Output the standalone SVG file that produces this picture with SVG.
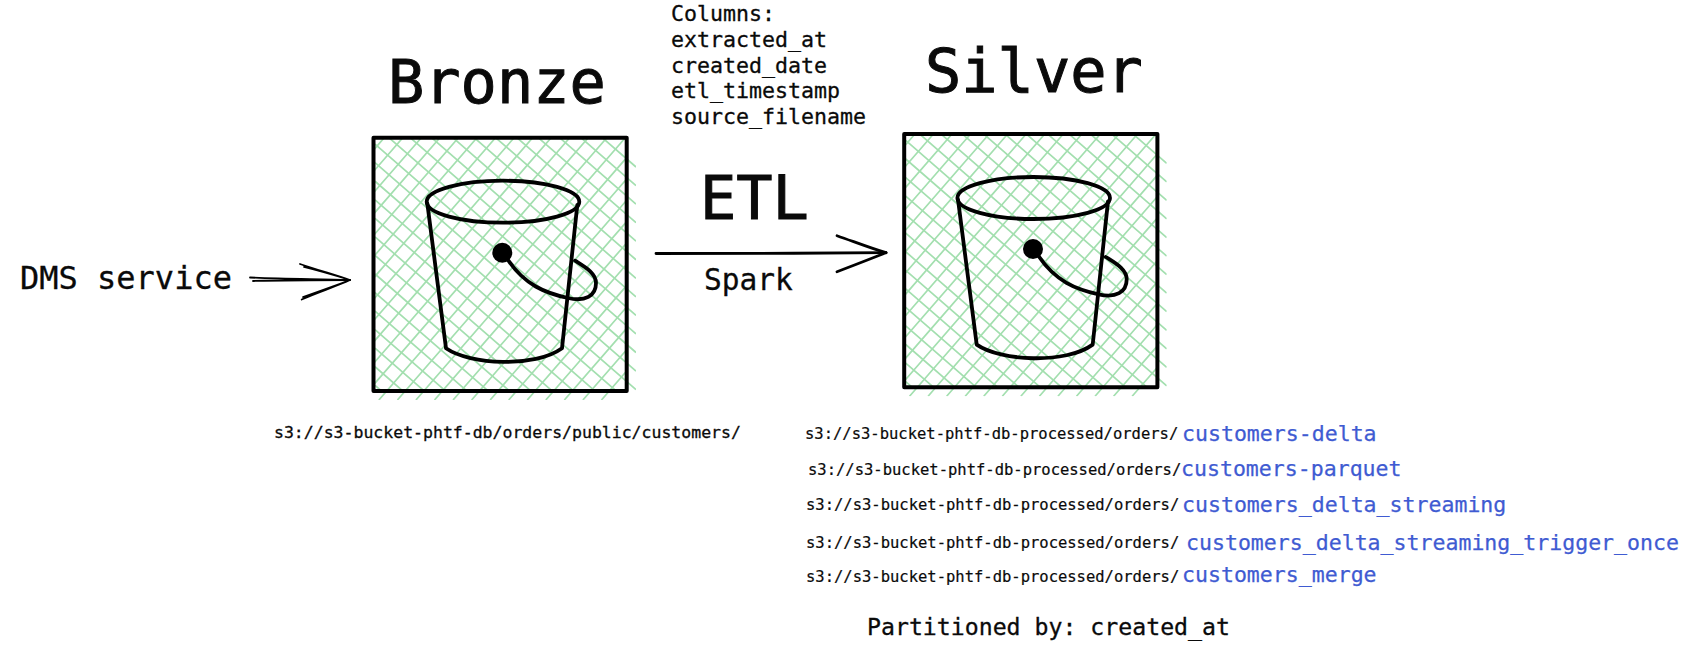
<svg xmlns="http://www.w3.org/2000/svg" xmlns:xlink="http://www.w3.org/1999/xlink" width="1698" height="671" viewBox="0 0 1698 671">
<style>
text{font-family:"DejaVu Sans Mono","Liberation Mono",monospace;fill:#0a0a0a;stroke:#0a0a0a;stroke-width:.3px}
.title{font-size:60.3px;stroke-width:1px}
.col{font-size:21.6px}
.path{font-size:15.5px;stroke-width:.2px}
.blue{font-size:21.55px;fill:#3f5bd2;stroke:#3f5bd2;stroke-width:.25px}
.ink{fill:none;stroke:#000;stroke-linecap:round;stroke-linejoin:round}
.hatch{fill:none;stroke:#a3dfaf;stroke-width:1.7}
</style>
<defs>
<clipPath id="c1"><rect x="375" y="136" width="261" height="255"/></clipPath>
<clipPath id="c2"><rect x="375" y="136" width="251" height="264"/></clipPath>
<g id="bucket">
<path class="hatch" clip-path="url(#c1)" d="M375 -59.9l261 226.9m-261 -208.35l261 226.9m-261 -208.35l261 226.9m-261 -208.35l261 226.9m-261 -208.35l261 226.9m-261 -208.35l261 226.9m-261 -208.35l261 226.9m-261 -208.35l261 226.9m-261 -208.35l261 226.9m-261 -208.35l261 226.9m-261 -208.35l261 226.9m-261 -208.35l261 226.9m-261 -208.35l261 226.9m-261 -208.35l261 226.9m-261 -208.35l261 226.9m-261 -208.35l261 226.9m-261 -208.35l261 226.9m-261 -208.35l261 226.9m-261 -208.35l261 226.9m-261 -208.35l261 226.9m-261 -208.35l261 226.9m-261 -208.35l261 226.9m-261 -208.35l261 226.9m-261 -208.35l261 226.9m-261 -208.35l261 226.9"/>
<path class="hatch" clip-path="url(#c2)" d="M156.25 400l229.5 -264m-210.95 264l229.5 -264m-210.95 264l229.5 -264m-210.95 264l229.5 -264m-210.95 264l229.5 -264m-210.95 264l229.5 -264m-210.95 264l229.5 -264m-210.95 264l229.5 -264m-210.95 264l229.5 -264m-210.95 264l229.5 -264m-210.95 264l229.5 -264m-210.95 264l229.5 -264m-210.95 264l229.5 -264m-210.95 264l229.5 -264m-210.95 264l229.5 -264m-210.95 264l229.5 -264m-210.95 264l229.5 -264m-210.95 264l229.5 -264m-210.95 264l229.5 -264m-210.95 264l229.5 -264m-210.95 264l229.5 -264m-210.95 264l229.5 -264m-210.95 264l229.5 -264m-210.95 264l229.5 -264m-210.95 264l229.5 -264"/>
<rect class="ink" x="373.5" y="137.7" width="253.2" height="253.3" stroke-width="4"/>
<g class="ink" stroke-width="3.8">
<ellipse cx="503" cy="201.7" rx="76.3" ry="21"/>
<path d="M427.3 203.3L446 348.3C470 365 535 368 562 348.3L577.3 205"/>
<path d="M508 260C525 285 545 293 568 298C585 302 596 296 596 283C596 273 585 267 575 260.7"/>
</g>
<circle cx="502.3" cy="252.7" r="10" fill="#000"/>
</g>
</defs>
<g id="connectors">
<g class="ink" stroke-width="1.8">
<path d="M250 277.5C285 279 320 279 350 280M253 281C290 280 320 280 350 280"/>
<path d="M300 264C318 270 335 275 350 280M304 267C320 271 337 276 350 280"/>
<path d="M301.7 299.5C318 292 335 287 350 280M303 297C320 291 337 285 350 280"/>
</g>
<g class="ink" stroke-width="2.8">
<path d="M656 253.5C730 253.7 810 253.2 886 252.7"/>
<path d="M837 235.7C855 242 870 248 886 252.7"/>
<path d="M837 271.7C855 265 870 259 886 252.7"/>
</g>
</g>
<g id="dms"><text x="20" y="288.6" font-size="32">DMS service</text></g>
<g id="bronze"><text class="title" x="388" y="102.5">Bronze</text><use href="#bucket"/><text x="274" y="438" font-size="16.5">s3://s3-bucket-phtf-db/orders/public/customers/</text></g>
<g id="silver"><text class="title" x="925" y="91.5">Silver</text><use href="#bucket" transform="translate(530.7 -3.7)"/></g>
<g id="etl"><text class="title" x="700" y="219.3">ETL</text><text x="704" y="289.5" font-size="29.5">Spark</text></g>
<g id="columns">
<text class="col" x="671" y="21">Columns:</text>
<text class="col" x="671" y="46.8">extracted_at</text>
<text class="col" x="671" y="72.6">created_date</text>
<text class="col" x="671" y="98.3">etl_timestamp</text>
<text class="col" x="671" y="124.3">source_filename</text>
</g>
<g id="paths">
<text class="path" x="805" y="439">s3://s3-bucket-phtf-db-processed/orders/</text><text class="blue" x="1182" y="441">customers-delta</text>
<text class="path" x="808" y="475">s3://s3-bucket-phtf-db-processed/orders/</text><text class="blue" x="1181" y="476">customers-parquet</text>
<text class="path" x="806" y="510">s3://s3-bucket-phtf-db-processed/orders/</text><text class="blue" x="1182" y="511.5">customers_delta_streaming</text>
<text class="path" x="806" y="548">s3://s3-bucket-phtf-db-processed/orders/</text><text class="blue" x="1186" y="550">customers_delta_streaming_trigger_once</text>
<text class="path" x="806" y="581.5">s3://s3-bucket-phtf-db-processed/orders/</text><text class="blue" x="1182" y="581.5">customers_merge</text>
<text x="867" y="635" font-size="23.2">Partitioned by: created_at</text>
</g>
</svg>
